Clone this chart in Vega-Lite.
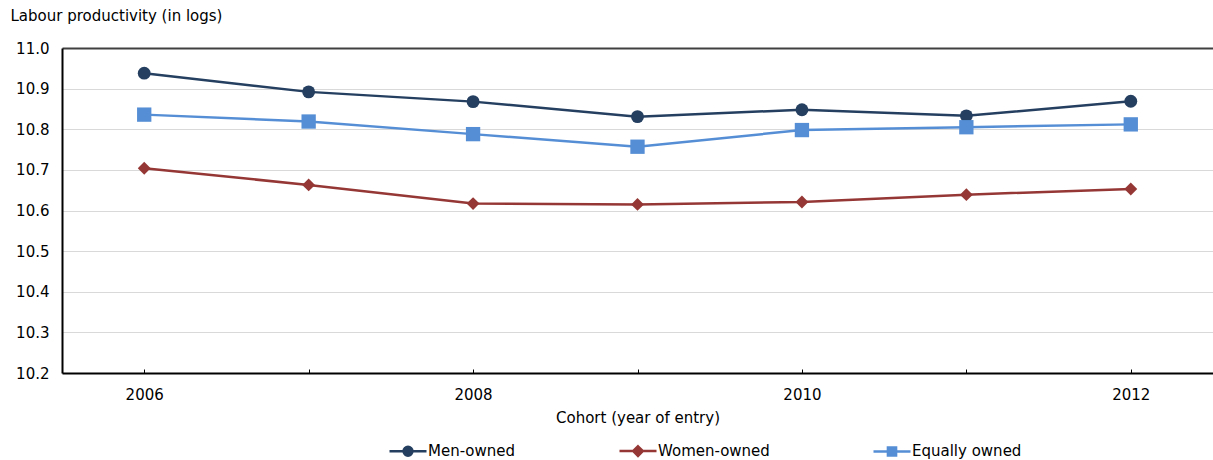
{
  "$schema": "https://vega.github.io/schema/vega-lite/v6.json",
  "autosize": {"type": "none"},
  "width": 1151,
  "height": 325,
  "padding": {"left": 62, "top": 48, "right": 0, "bottom": 87},
  "background": "white",
  "config": {
    "font": "DejaVu Sans",
    "view": {"stroke": null},
    "axis": {"labelFont": "DejaVu Sans", "titleFont": "DejaVu Sans", "labelFontSize": 15, "titleFontSize": 15, "labelColor": "#000000", "titleColor": "#000000", "titleFontWeight": "normal"},
    "legend": {"labelFont": "DejaVu Sans", "labelFontSize": 15, "labelColor": "#000000"}
  },
  "data": {
    "values": [
      {"year": 2006, "series": "Men-owned", "value": 10.938},
      {"year": 2007, "series": "Men-owned", "value": 10.892},
      {"year": 2008, "series": "Men-owned", "value": 10.868},
      {"year": 2009, "series": "Men-owned", "value": 10.831},
      {"year": 2010, "series": "Men-owned", "value": 10.848},
      {"year": 2011, "series": "Men-owned", "value": 10.833},
      {"year": 2012, "series": "Men-owned", "value": 10.869},
      {"year": 2006, "series": "Women-owned", "value": 10.704},
      {"year": 2007, "series": "Women-owned", "value": 10.663},
      {"year": 2008, "series": "Women-owned", "value": 10.617},
      {"year": 2009, "series": "Women-owned", "value": 10.615},
      {"year": 2010, "series": "Women-owned", "value": 10.621},
      {"year": 2011, "series": "Women-owned", "value": 10.639},
      {"year": 2012, "series": "Women-owned", "value": 10.653},
      {"year": 2006, "series": "Equally owned", "value": 10.836},
      {"year": 2007, "series": "Equally owned", "value": 10.819},
      {"year": 2008, "series": "Equally owned", "value": 10.788},
      {"year": 2009, "series": "Equally owned", "value": 10.757},
      {"year": 2010, "series": "Equally owned", "value": 10.798},
      {"year": 2011, "series": "Equally owned", "value": 10.805},
      {"year": 2012, "series": "Equally owned", "value": 10.812}
    ]
  },
  "encoding": {
    "x": {
      "field": "year", "type": "quantitative",
      "scale": {"domain": [2005.5, 2012.5], "nice": false, "zero": false},
      "axis": {
        "title": "Cohort (year of entry)",
        "values": [2006, 2007, 2008, 2009, 2010, 2011, 2012],
        "labelExpr": "datum.value % 2 === 0 ? format(datum.value, 'd') : ''",
        "grid": false,
        "domainColor": "#000000", "domainWidth": 2,
        "tickColor": "#000000", "tickWidth": 1, "tickSize": -4,
        "labelPadding": 18, "titlePadding": 8,
        "labelFlush": false, "labelOverlap": false
      }
    },
    "y": {
      "field": "value", "type": "quantitative",
      "scale": {"domain": [10.2, 11.0], "nice": false, "zero": false},
      "axis": {
        "title": "Labour productivity (in logs)",
        "titleAngle": 0, "titleAlign": "left", "titleBaseline": "middle",
        "titleX": -52, "titleY": -33,
        "values": [10.2, 10.3, 10.4, 10.5, 10.6, 10.7, 10.8, 10.9, 11.0],
        "format": ".1f",
        "ticks": false, "labelPadding": 13,
        "domainColor": "#000000", "domainWidth": 2,
        "gridColor": {"condition": {"test": "datum.value >= 10.999", "value": "#404040"}, "value": "#d9d9d9"},
        "gridWidth": {"condition": {"test": "datum.value >= 10.999", "value": 2}, "value": 1},
        "labelFlush": false
      }
    }
  },
  "layer": [
    {
      "mark": {"type": "line", "strokeWidth": 2.5},
      "encoding": {
        "color": {
          "field": "series", "type": "nominal",
          "scale": {"domain": ["Men-owned", "Women-owned", "Equally owned"], "range": ["#243F60", "#953735", "#558ED5"]},
          "legend": {
            "title": null,
            "orient": "none",
            "direction": "horizontal",
            "legendX": 326,
            "legendY": 383,
            "columnPadding": 98,
            "symbolSize": 1369,
            "symbolStrokeWidth": 2.5,
            "labelOffset": 0,
            "encode": {
              "symbols": {
                "update": {
                  "shape": {"signal": "datum.value === 'Men-owned' ? 'M-1,0H1M0.24,0A0.24,0.24,0,1,1,-0.24,0A0.24,0.24,0,1,1,0.24,0Z' : datum.value === 'Women-owned' ? 'M-1,0H1M0,-0.26L0.26,0L0,0.26L-0.26,0Z' : 'M-1,0H1M-0.22,-0.22H0.22V0.22H-0.22Z'"},
                  "fill": {"signal": "scale('color', datum.value)"},
                  "stroke": {"signal": "scale('color', datum.value)"},
                  "strokeWidth": {"value": 2.5},
                  "opacity": {"value": 1},
                  "fillOpacity": {"value": 1},
                  "strokeOpacity": {"value": 1}
                }
              }
            }
          }
        }
      }
    },
    {
      "mark": {"type": "point", "filled": true, "opacity": 1, "strokeWidth": 0},
      "encoding": {
        "fill": {
          "condition": [
            {"test": "datum.series === 'Men-owned'", "value": "#243F60"},
            {"test": "datum.series === 'Women-owned'", "value": "#953735"}
          ],
          "value": "#558ED5"
        },
        "shape": {
          "condition": [
            {"test": "datum.series === 'Men-owned'", "value": "circle"},
            {"test": "datum.series === 'Women-owned'", "value": "diamond"}
          ],
          "value": "square"
        },
        "size": {
          "condition": [
            {"test": "datum.series === 'Men-owned'", "value": 165},
            {"test": "datum.series === 'Women-owned'", "value": 165}
          ],
          "value": 205
        }
      }
    }
  ]
}
